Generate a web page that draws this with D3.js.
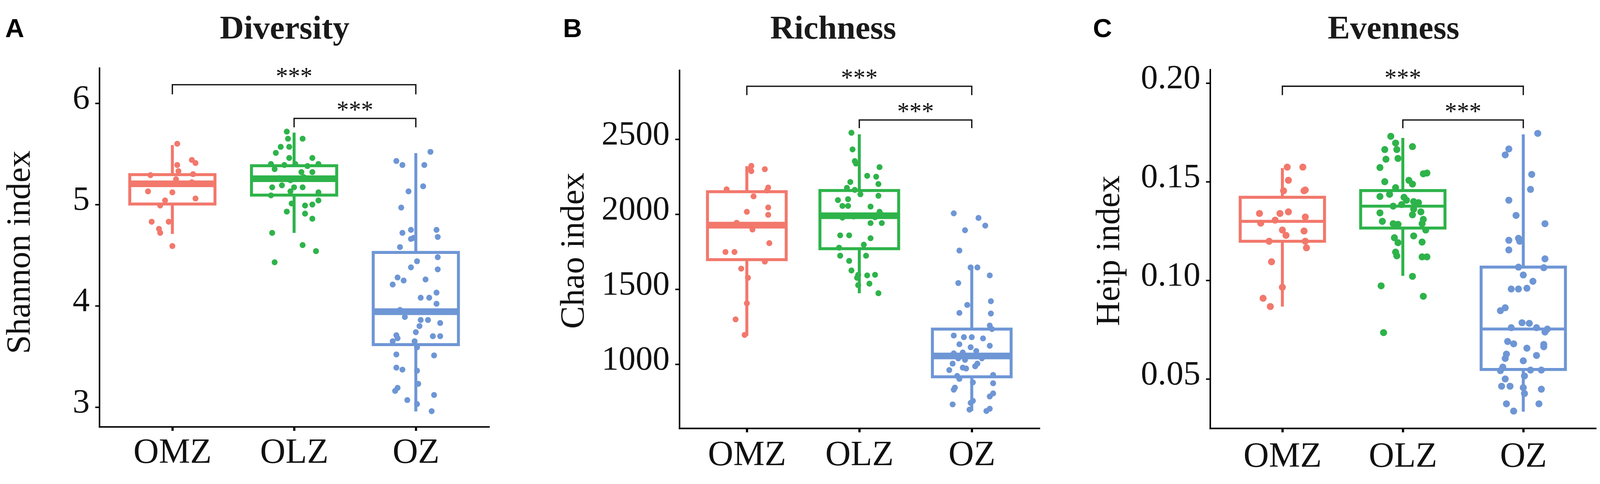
<!DOCTYPE html>
<html>
<head>
<meta charset="utf-8">
<script src="https://cdn.jsdelivr.net/npm/d3@7"></script>
<style>
  html, body { margin: 0; padding: 0; width: 100%; height: 100%; background: #fff; overflow: hidden; }
  svg { display: block; width: 100vw; height: 100vh; }
</style>
</head>
<body>
<svg viewBox="0 0 4317 1239" preserveAspectRatio="xMidYMid meet"></svg>
<script>
const groups = ["OMZ", "OLZ", "OZ"];
const colors = ["#F2786C", "#2EB34A", "#6E96D5"];

// ---- Diversity (Shannon index) ----
const shannonTicks = [3, 4, 5, 6];
const shannonOMZ = [5.60, 5.44, 5.41, 5.39, 5.33, 5.29, 5.30, 5.25, 5.22, 5.13, 5.12, 5.06, 5.04, 4.99, 4.83, 4.83, 4.76, 4.72, 4.59];
const shannonOMZJit = [0.04, 0.16, 0.19, 0.04, 0.05, -0.18, 0.17, 0.03, 0.16, -0.20, 0.00, 0.19, -0.06, -0.10, -0.17, -0.03, -0.11, -0.10, 0.00];
const shannonOLZ = [5.72, 5.65, 5.65, 5.57, 5.57, 5.51, 5.46, 5.46, 5.40, 5.35, 5.39, 5.40, 5.38, 5.40, 5.32, 5.32, 5.26, 5.27, 5.25,
  5.24, 5.17, 5.19, 5.17, 5.17, 5.09, 5.13, 5.12, 5.04, 5.01, 4.99, 5.00, 4.93, 4.91, 4.86, 4.72, 4.60, 4.54, 4.43];
const shannonOLZJit = [-0.06, -0.05, 0.07, -0.11, -0.04, -0.15, -0.04, 0.15, -0.19, -0.16, -0.08, 0.01, 0.11, 0.20, 0.06, 0.15, -0.12, 0.08, 0.02,
  -0.03, -0.18, -0.10, 0.00, 0.07, -0.19, -0.03, 0.20, 0.20, -0.02, 0.09, 0.15, -0.06, 0.09, 0.15, -0.18, 0.07, 0.18, -0.16];
const shannonOZ = [5.52, 5.43, 5.39, 5.39, 5.18, 5.13, 4.97, 4.72, 4.75, 4.67, 4.66, 4.75, 4.68, 4.58, 4.48, 4.44, 4.38, 4.36, 4.28, 4.25,
  4.21, 4.26, 4.13, 4.08, 4.08, 4.02, 3.96, 3.89, 3.86, 3.86, 3.83, 3.80, 3.74, 3.71, 3.68, 3.70, 3.70, 3.65, 3.65, 3.59,
  3.52, 3.51, 3.39, 3.37, 3.36, 3.23, 3.19, 3.16, 3.12, 3.07, 3.03, 2.96];
const shannonOZJit = [0.12, -0.16, -0.11, 0.07, 0.06, -0.06, -0.12, -0.11, -0.04, -0.02, -0.04, 0.17, 0.18, -0.13, 0.18, 0.01, -0.04, 0.18, -0.15, -0.10,
  -0.19, 0.08, 0.17, 0.04, 0.11, 0.17, -0.13, -0.09, 0.04, 0.10, 0.20, 0.03, 0.00, -0.16, -0.15, 0.14, 0.20, -0.19, -0.01, 0.01,
  -0.16, 0.15, -0.16, -0.11, 0.01, 0.02, -0.15, -0.17, 0.15, -0.07, 0.01, 0.13];
// [lower whisker, Q1, median, Q3, upper whisker]
const shannonBox = [[4.71, 5.005, 5.205, 5.295, 5.587], [4.72, 5.093, 5.255, 5.383, 5.71], [2.957, 3.617, 3.942, 4.527, 5.507]];
// [from, to, bar level, leg end]
const shannonSig = [["OMZ", "OZ", 6.183, 6.088], ["OLZ", "OZ", 5.85, 5.762]];

// ---- Richness (Chao index) ----
const chaoTicks = [1000, 1500, 2000, 2500];
const chaoOMZ = [2322, 2300, 2287, 2300, 2166, 2178, 2158, 2119, 2016, 2045, 1996, 1943, 1924, 1898, 1807, 1748, 1748, 1684, 1637, 1576, 1406, 1299, 1195];
const chaoOMZJit = [0.04, 0.03, 0.04, 0.16, -0.18, 0.19, 0.18, 0.06, 0.00, 0.19, 0.19, -0.09, -0.17, 0.05, 0.20, -0.19, -0.11, 0.16, -0.05, 0.01, 0.00, -0.10, -0.02];
const chaoOLZ = [2543, 2432, 2354, 2338, 2314, 2256, 2250, 2215, 2201, 2176, 2162, 2133, 2123, 2094, 2100, 2055, 2055, 2051, 2016, 1996, 1977,
  1985, 1990, 1980, 1941, 1941, 1859, 1859, 1840, 1797, 1777, 1723, 1723, 1689, 1625, 1596, 1576, 1592, 1596, 1537, 1527, 1473];
const chaoOLZJit = [-0.07, -0.06, -0.04, -0.03, 0.18, 0.07, 0.15, -0.08, 0.17, -0.11, -0.04, 0.01, 0.17, -0.19, -0.10, -0.15, -0.10, 0.10, 0.18, 0.20, -0.15,
  -0.05, 0.07, 0.14, 0.10, 0.20, -0.17, -0.09, 0.10, 0.04, -0.18, -0.17, 0.06, -0.09, -0.07, -0.01, -0.02, 0.07, 0.14, 0.09, -0.01, 0.17];
const chaoOZ = [2006, 1975, 1924, 1893, 1758, 1645, 1645, 1592, 1541, 1395, 1420, 1342, 1338, 1258, 1234, 1191, 1180, 1180, 1172, 1133, 1113, 1123, 1072, 1078, 1088,
  1039, 1029, 1039, 1004, 977, 986, 961, 971, 1004, 922, 902, 928, 879, 873, 844, 830, 805, 785, 756, 742, 732, 703, 688, 697];
const chaoOZJit = [-0.16, 0.06, 0.12, -0.06, -0.11, -0.01, 0.05, 0.16, -0.12, -0.04, 0.17, -0.11, 0.17, 0.16, 0.18, -0.16, -0.07, 0.00, 0.10, -0.11, -0.01, 0.16, -0.16, -0.08, 0.04,
  -0.12, -0.06, 0.09, -0.17, -0.08, 0.03, -0.20, -0.05, 0.05, -0.13, -0.11, 0.19, 0.01, 0.19, -0.15, -0.16, 0.19, 0.16, 0.01, -0.01, -0.17, 0.16, 0.13, -0.02];
const chaoBox = [[1189, 1697, 1927, 2150, 2320], [1473, 1770, 1990, 2158, 2533], [688, 916, 1055, 1234, 1654]];
const chaoSig = [["OMZ", "OZ", 2853, 2794], ["OLZ", "OZ", 2628, 2574]];

// ---- Evenness (Heip index) ----
const heipTicks = [0.05, 0.10, 0.15, 0.20];
const heipOMZ = [0.1574, 0.1574, 0.1507, 0.1454, 0.1454, 0.1458, 0.1339, 0.1339, 0.1347, 0.1321, 0.1290, 0.1305, 0.1255, 0.1228, 0.1250,
  0.1198, 0.1198, 0.1165, 0.1094, 0.0965, 0.0909, 0.0867];
const heipOMZJit = [0.04, 0.17, 0.05, 0.01, 0.18, 0.19, -0.19, -0.02, 0.05, 0.19, -0.18, -0.06, 0.00, 0.03, 0.18,
  -0.11, 0.19, 0.20, -0.09, 0.00, -0.16, -0.10];
const heipOLZ = [0.1730, 0.1696, 0.1663, 0.1678, 0.1663, 0.1614, 0.1618, 0.1572, 0.1544, 0.1540, 0.1500, 0.1507, 0.1488, 0.1470, 0.1425,
  0.1436, 0.1421, 0.1406, 0.1399, 0.1394, 0.1376, 0.1384, 0.1361, 0.1347, 0.1342, 0.1332, 0.1309, 0.1299, 0.1287, 0.1284,
  0.1287, 0.1255, 0.1225, 0.1216, 0.1191, 0.1194, 0.1143, 0.1124, 0.1119, 0.1119, 0.1020, 0.0972, 0.0919, 0.0735];
const heipOLZJit = [-0.10, -0.06, -0.05, 0.08, -0.15, -0.14, -0.04, -0.19, 0.20, 0.17, -0.15, 0.05, 0.08, -0.06, -0.19,
  -0.11, 0.01, 0.03, 0.09, 0.13, -0.08, -0.01, 0.09, 0.15, -0.19, 0.08, 0.17, -0.17, -0.08, -0.04,
  0.16, 0.19, 0.09, -0.07, -0.04, 0.16, -0.06, -0.05, 0.16, 0.20, 0.08, -0.18, 0.17, -0.16];
const heipOZ = [0.1745, 0.1666, 0.1636, 0.1537, 0.1461, 0.1406, 0.1329, 0.1287, 0.1203, 0.1213, 0.1198, 0.1154, 0.1109, 0.1064, 0.1067,
  0.1027, 0.0995, 0.0956, 0.0956, 0.0960, 0.0861, 0.0846, 0.0785, 0.0782, 0.0760, 0.0760, 0.0753, 0.0738, 0.0690, 0.0678,
  0.0656, 0.0675, 0.0663, 0.0626, 0.0604, 0.0619, 0.0592, 0.0560, 0.0542, 0.0545, 0.0545, 0.0515, 0.0500, 0.0463, 0.0463,
  0.0456, 0.0426, 0.0448, 0.0374, 0.0374, 0.0337];
const heipOZJit = [0.12, -0.12, -0.15, 0.07, 0.06, -0.12, -0.06, 0.18, -0.12, -0.04, -0.03, -0.12, 0.18, 0.17, -0.04,
  0.00, 0.08, -0.10, -0.04, 0.03, -0.15, -0.19, -0.01, 0.05, -0.10, 0.11, 0.20, 0.18, -0.13, -0.08,
  0.03, 0.17, 0.17, -0.14, -0.15, 0.11, 0.00, -0.17, -0.19, 0.06, 0.15, 0.01, -0.15, -0.18, -0.11,
  0.00, 0.01, 0.15, -0.14, 0.13, -0.08];
const heipBox = [[0.0867, 0.1198, 0.1299, 0.1421, 0.1569], [0.1023, 0.1265, 0.1376, 0.1455, 0.1722], [0.0334, 0.0548, 0.0753, 0.1067, 0.174]];
const heipSig = [["OMZ", "OZ", 0.1984, 0.1939], ["OLZ", "OZ", 0.1813, 0.1771]];

const SERIF = "'Liberation Serif', 'Times New Roman', serif";
const SANS = "'Liberation Sans', Arial, sans-serif";

const svg = d3.select("svg");

const panels = [
  { letter: "A", title: "Diversity", ylab: "Shannon index", ticks: shannonTicks, fmt: d3.format("d"),
    values: [shannonOMZ, shannonOLZ, shannonOZ], jitter: [shannonOMZJit, shannonOLZJit, shannonOZJit],
    box: shannonBox, sig: shannonSig, domain: [2.806, 6.348],
    left: 268, right: 1319, top: 150, bottom: 1118,
    letterX: 14, titleX: 768, ylabX: 80, ylabY: 647, xlabY: 1216, medianW: 18, r: 8 },
  { letter: "B", title: "Richness", ylab: "Chao index", ticks: chaoTicks, fmt: d3.format("d"),
    values: [chaoOMZ, chaoOLZ, chaoOZ], jitter: [chaoOMZJit, chaoOLZJit, chaoOZJit],
    box: chaoBox, sig: chaoSig, domain: [573, 2960],
    left: 1833, right: 2804, top: 156, bottom: 1122,
    letterX: 1519, titleX: 2248, ylabX: 1575, ylabY: 643, xlabY: 1222, medianW: 18, r: 8 },
  { letter: "C", title: "Evenness", ylab: "Heip index", ticks: heipTicks, fmt: d3.format(".2f"),
    values: [heipOMZ, heipOLZ, heipOZ], jitter: [heipOMZJit, heipOLZJit, heipOZJit],
    box: heipBox, sig: heipSig, domain: [0.025, 0.2069],
    left: 3265, right: 4305, top: 154, bottom: 1122,
    letterX: 2949, titleX: 3760, ylabX: 3020, ylabY: 643, xlabY: 1226, medianW: 8, r: 9.5 }
];

const drawPanel = (p) => {
  const g = svg.append("g");
  const x = d3.scalePoint().domain(groups).range([p.left, p.right]).padding(0.6);
  const y = d3.scaleLinear().domain(p.domain).range([p.bottom, p.top]);
  const step = x.step();
  const bw = 0.70 * step;

  // axes
  const yAxis = g.append("g")
    .attr("transform", `translate(${p.left},0)`)
    .call(d3.axisLeft(y).tickValues(p.ticks).tickFormat(p.fmt).tickSize(11).tickSizeOuter(0).tickPadding(15));
  yAxis.select(".domain").attr("stroke-width", 4).attr("stroke-linecap", "square");
  yAxis.selectAll(".tick line").attr("stroke-width", 4);
  yAxis.selectAll(".tick text")
    .style("font-family", SERIF)
    .style("font-size", "92px")
    .attr("dy", "0.15em")
    .attr("fill", "#111");

  const xAxis = g.append("g")
    .attr("transform", `translate(0,${p.bottom})`)
    .call(d3.axisBottom(x).tickSize(11).tickSizeOuter(0));
  xAxis.select(".domain").attr("stroke-width", 4).attr("stroke-linecap", "square");
  xAxis.selectAll(".tick line").attr("stroke-width", 6);
  xAxis.selectAll(".tick text")
    .style("font-family", SERIF)
    .style("font-size", "95px")
    .attr("y", p.xlabY - p.bottom)
    .attr("dy", 0)
    .attr("fill", "#111");

  // boxes
  groups.forEach((grp, i) => {
    const [lo, q1, med, q3, hi] = p.box[i];
    const cx = x(grp);
    const bg = g.append("g")
      .attr("stroke", colors[i])
      .attr("fill", "none");
    bg.append("line").attr("x1", cx).attr("x2", cx).attr("y1", y(hi)).attr("y2", y(q3)).attr("stroke-width", 8);
    bg.append("line").attr("x1", cx).attr("x2", cx).attr("y1", y(q1)).attr("y2", y(lo)).attr("stroke-width", 8);
    bg.append("rect")
      .attr("x", cx - bw / 2).attr("width", bw)
      .attr("y", y(q3)).attr("height", y(q1) - y(q3))
      .attr("stroke-width", 8);
    bg.append("line")
      .attr("x1", cx - bw / 2).attr("x2", cx + bw / 2)
      .attr("y1", y(med)).attr("y2", y(med))
      .attr("stroke-width", p.medianW);
  });

  // jittered points
  groups.forEach((grp, i) => {
    const pts = p.values[i].map((v, k) => ({ v: v, j: p.jitter[i][k] }));
    g.append("g").selectAll("circle")
      .data(pts)
      .join("circle")
      .attr("cx", (d) => x(grp) + d.j * step)
      .attr("cy", (d) => y(d.v))
      .attr("r", p.r)
      .attr("fill", colors[i]);
  });

  // significance brackets
  p.sig.forEach(([from, to, level, leg]) => {
    const x1 = x(from);
    const x2 = x(to);
    g.append("path")
      .attr("d", `M${x1},${y(leg)}V${y(level)}H${x2}V${y(leg)}`)
      .attr("fill", "none")
      .attr("stroke", "#111")
      .attr("stroke-width", 3.5);
    g.append("text")
      .attr("x", (x1 + x2) / 2)
      .attr("y", y(level) - 1)
      .attr("text-anchor", "middle")
      .style("font-family", SERIF)
      .style("font-size", "66px")
      .attr("fill", "#111")
      .text("***");
  });

  // titles
  g.append("text")
    .attr("x", p.titleX).attr("y", 71)
    .attr("text-anchor", "middle")
    .style("font-family", SERIF)
    .style("font-size", "90px")
    .style("font-weight", "bold")
    .attr("fill", "#1a1a1a")
    .text(p.title);

  g.append("text")
    .attr("x", p.letterX).attr("y", 67)
    .style("font-family", SANS)
    .style("font-weight", "bold")
    .style("font-size", "71px")
    .attr("fill", "#000")
    .text(p.letter);

  g.append("text")
    .attr("transform", `translate(${p.ylabX},${p.ylabY}) rotate(-90)`)
    .attr("text-anchor", "middle")
    .style("font-family", SERIF)
    .style("font-size", "92px")
    .attr("fill", "#111")
    .text(p.ylab);
};

panels.forEach(drawPanel);
</script>
</body>
</html>
